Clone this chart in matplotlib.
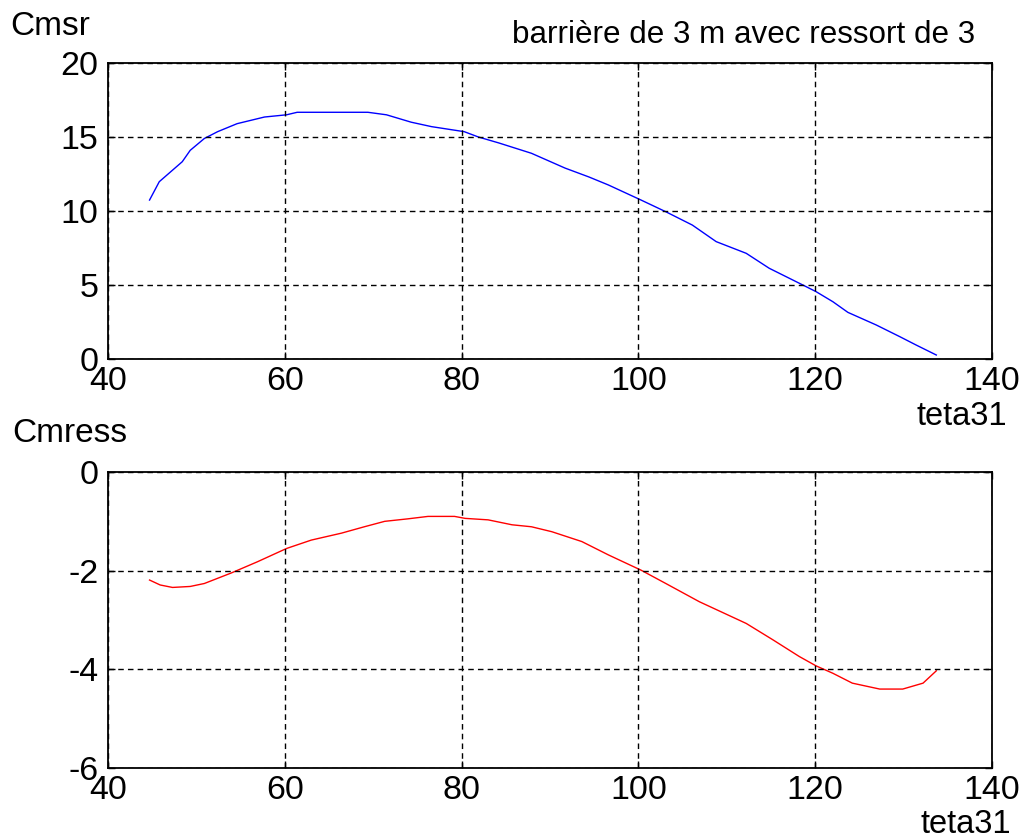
import matplotlib
matplotlib.use("Agg")
import matplotlib.pyplot as plt

plt.rcParams['font.family'] = ['Liberation Sans', 'DejaVu Sans']
plt.rcParams['axes.unicode_minus'] = False

# Top panel: Cmsr vs teta31
teta_top = [44.7, 45.8, 48.4, 49.3, 50.9, 52.4, 54.6, 57.7, 60.2, 61.4, 69.4, 71.5,
            74.3, 76.6, 80.3, 81.9, 84.2, 87.9, 91.7, 94.4, 96.6, 100.3, 103.1,
            106.1, 108.8, 112.2, 114.8, 118.6, 120.1, 122.0, 123.7, 126.9, 129.6,
            131.4, 133.7]
cmsr = [10.74, 11.98, 13.33, 14.1, 14.9, 15.36, 15.9, 16.35, 16.5, 16.67, 16.67, 16.5,
        16.0, 15.7, 15.36, 15.0, 14.6, 13.9, 12.9, 12.3, 11.76, 10.74, 9.95,
        9.05, 7.93, 7.14, 6.13, 5.0, 4.55, 3.87, 3.15, 2.3, 1.5,
        0.95, 0.27]

# Bottom panel: Cmress vs teta31
teta_bot = [44.7, 45.9, 47.3, 49.3, 50.9, 53.9, 56.9, 60.2, 63.0, 66.4, 69.0, 71.3,
            73.9, 76.2, 79.2, 80.4, 83.0, 85.7, 87.9, 90.2, 93.6, 96.6, 100.3,
            103.1, 106.9, 112.2, 115.2, 118.2, 120.1, 122.0, 124.2, 127.3, 129.9,
            132.2, 133.7]
cmress = [-2.19, -2.29, -2.34, -2.32, -2.26, -2.05, -1.82, -1.55, -1.38, -1.24, -1.11, -1.0,
          -0.95, -0.90, -0.90, -0.94, -0.97, -1.07, -1.11, -1.21, -1.41, -1.68, -1.99,
          -2.26, -2.63, -3.07, -3.40, -3.74, -3.93, -4.08, -4.28, -4.40, -4.40,
          -4.28, -4.03]

xticks = [40, 60, 80, 100, 120, 140]
yticks_top = [0, 5, 10, 15, 20]
yticks_bot = [-6, -4, -2, 0]

W, H = 1036, 836
fig = plt.figure(figsize=(W / 100, H / 100), dpi=100)

def px_axes(left, top, right, bottom):
    return fig.add_axes([left / W, 1 - bottom / H, (right - left) / W, (bottom - top) / H])

ax1 = px_axes(108, 63, 992, 359)
ax2 = px_axes(108, 472, 992, 768)

FS = 24.5

def style(ax, yticks, ylim):
    ax.set_xlim(40, 140)
    ax.set_ylim(*ylim)
    ax.set_xticks(xticks)
    ax.set_yticks(yticks)
    ax.tick_params(direction='in', top=True, right=True, length=5, width=1,
                   labelsize=FS, color='black')
    ax.tick_params(axis='x', pad=5)
    ax.tick_params(axis='y', pad=7)
    ax.grid(True, color='black', linestyle=(0, (4, 3)), linewidth=1.0)
    for s in ax.spines.values():
        s.set_linewidth(1.3)
        s.set_color('black')
    ax.set_axisbelow(False)

ax1.plot(teta_top, cmsr, color=(0, 0, 1), linewidth=1.0)
style(ax1, yticks_top, (0, 20))
ax2.plot(teta_bot, cmress, color=(1, 0, 0), linewidth=1.0)
style(ax2, yticks_bot, (-6, 0))

ax1.text(-0.111, 1.095, "Cmsr", transform=ax1.transAxes, fontsize=24,
         ha='left', va='baseline')
ax1.text(0.981, 1.068, "barrière de 3 m avec ressort de 3", transform=ax1.transAxes,
         fontsize=22.6, ha='right', va='baseline')
ax1.text(1.017, -0.223, "teta31", transform=ax1.transAxes, fontsize=23.5,
         ha='right', va='baseline')

ax2.text(-0.108, 1.101, "Cmress", transform=ax2.transAxes, fontsize=24,
         ha='left', va='baseline')
ax2.text(1.022, -0.22, "teta31", transform=ax2.transAxes, fontsize=23.5,
         ha='right', va='baseline')

fig.savefig("out.png", dpi=100)
